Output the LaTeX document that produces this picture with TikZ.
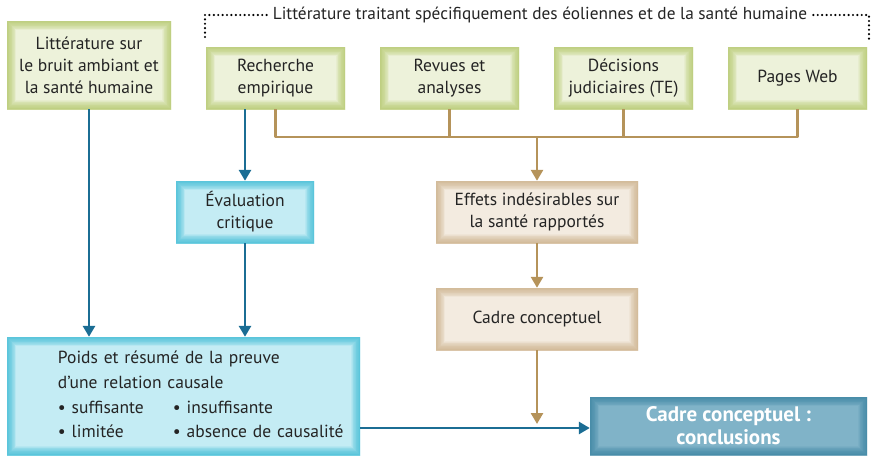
\documentclass[tikz,border=0pt]{standalone}
\usepackage{fontspec}
\setmainfont{PT Sans}
\usetikzlibrary{arrows.meta}

\definecolor{greenFill}{HTML}{EDF2DA}
\definecolor{greenEdge}{HTML}{AFC45E}
\definecolor{blueFill}{HTML}{C4ECF4}
\definecolor{blueEdge}{HTML}{2FB8D3}
\definecolor{tanFill}{HTML}{F3EBE0}
\definecolor{tanEdge}{HTML}{C9AA80}
\definecolor{darkFill}{HTML}{80B3C8}
\definecolor{darkEdge}{HTML}{35809F}
\definecolor{lineBlue}{HTML}{1B6D94}
\definecolor{lineTan}{HTML}{B5935A}
\definecolor{txt}{HTML}{242424}

\tikzset{
  cell/.style={rectangle, inner sep=0pt, align=center, text=txt,
    font=\fontsize{17.5}{22}\selectfont,
    path picture={\foreach \w in {1,...,12}{
      \draw[#1, opacity=0.09, line width=\w*1.5pt]
        (path picture bounding box.south west) rectangle (path picture bounding box.north east);}}},
  greenbox/.style={cell=greenEdge, fill=greenFill, minimum width=139pt, minimum height=62pt},
  bluebox/.style={cell=blueEdge, fill=blueFill, minimum width=138pt, minimum height=62pt},
  tanbox/.style={cell=tanEdge, fill=tanFill, minimum width=202pt, minimum height=62pt},
  darkbox/.style={cell=darkEdge, fill=darkFill, minimum width=277pt, minimum height=58pt,
    text=white, font=\fontsize{21}{23}\bfseries\selectfont},
  blueflow/.style={draw=lineBlue, line width=2.8pt},
  tanflow/.style={draw=lineTan, line width=2.6pt},
  dotline/.style={draw=black, line width=2.4pt, line cap=round, dash pattern=on 0pt off 4.4pt}
}

\begin{document}
\begin{tikzpicture}[x=1pt, y=-1pt, line join=round, >={Triangle[length=11pt,width=12pt]}]
\useasboundingbox (0,0) rectangle (875,458);
\node[greenbox, minimum width=164pt, minimum height=88pt] (lit) at (89,65) {Littérature sur\\le bruit ambiant et\\la santé humaine};
\node[greenbox] (rech) at (275.5,78) {Recherche\\empirique};
\node[greenbox] (revues) at (449.5,78) {Revues et\\analyses};
\node[greenbox] (decis) at (623.5,78) {Décisions\\judiciaires (TE)};
\node[greenbox] (web) at (797.5,78) {Pages Web};
\node[text=txt, font=\fontsize{17.3}{20}\selectfont, inner xsep=6pt] (titre) at (540,15) {Littérature traitant spécifiquement des éoliennes et de la santé humaine};
\draw[dotline] (titre.west) -- (titre.west -| 205,0) -- (205,40);
\draw[dotline] (titre.east) -- (titre.east -| 869,0) -- (869,40);
\node[bluebox] (eval) at (245,212) {Évaluation\\critique};
\node[tanbox] (effets) at (537,212) {Effets indésirables sur\\la santé rapportés};
\node[tanbox] (cadre) at (537,319) {Cadre conceptuel};
\node[bluebox, minimum width=353pt, minimum height=118pt, text width=353pt, align=left] (poids) at (183.5,396)
  {\hspace*{51pt}\renewcommand{\arraystretch}{1.12}\begin{tabular}{@{}p{115pt}@{}l@{}}
   \multicolumn{2}{@{}l@{}}{Poids et résumé de la preuve}\\
   \multicolumn{2}{@{}l@{}}{d’une relation causale}\\
   • suffisante & • insuffisante\\
   • limitée & • absence de causalité
  \end{tabular}};
\node[darkbox] (concl) at (728.5,426) {Cadre conceptuel :\\conclusions};
\coordinate (bus) at (537,137);
\coordinate (fin) at (537,424);
\draw[tanflow] (rech.south) |- (web.south |- bus) -- (web.south);
\draw[tanflow] (revues.south) -- (revues.south |- bus);
\draw[tanflow] (decis.south) -- (decis.south |- bus);
\draw[tanflow,->] (bus) -- (effets.north);
\draw[tanflow,->] (effets) -- (cadre);
\draw[tanflow,->] (cadre) -- (fin);
\draw[blueflow,->] (lit) -- (lit |- poids.north);
\draw[blueflow,->] (eval.north |- rech.south) -- (eval);
\draw[blueflow,->] (eval) -- (eval |- poids.north);
\draw[blueflow,->] (poids.east |- 0,428) -- (concl.west |- 0,428);
\end{tikzpicture}
\end{document}
